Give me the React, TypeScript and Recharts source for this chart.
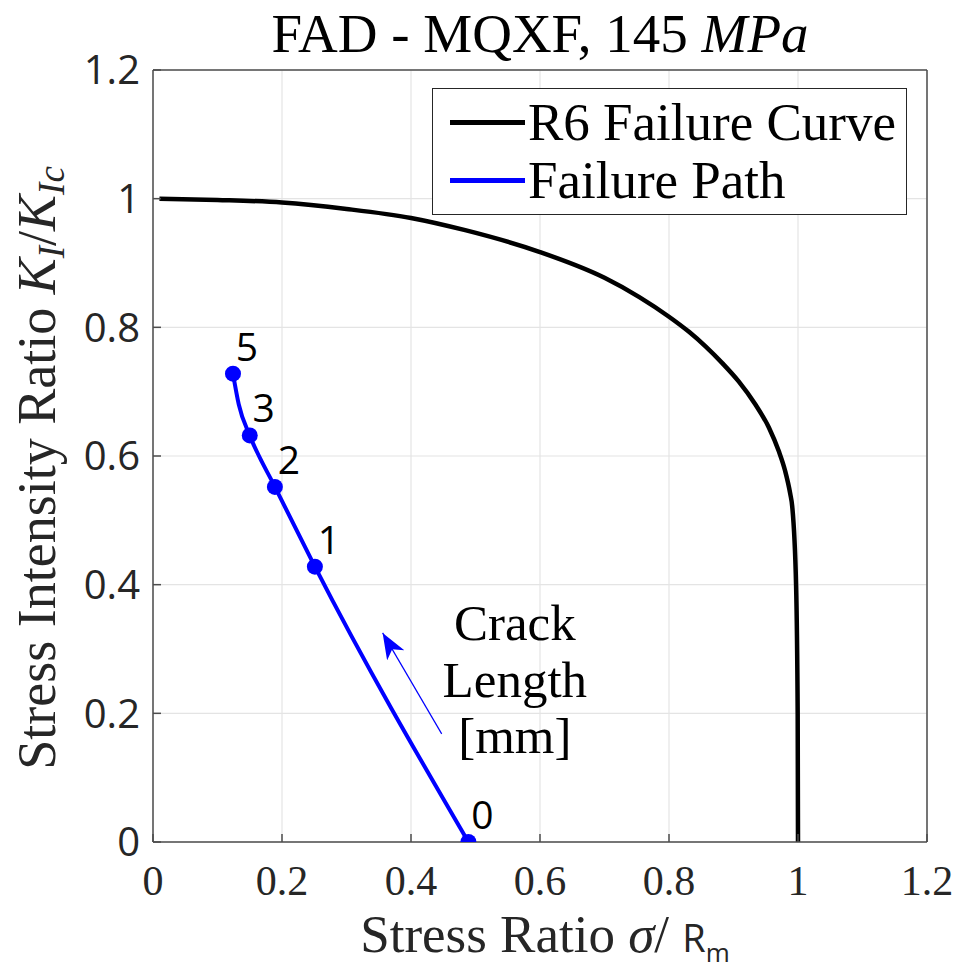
import React from "react";
import {
  ComposedChart, Line, Scatter, XAxis, YAxis, CartesianGrid, Legend, ReferenceDot
} from "recharts";

const axisTicks = [0, 0.2, 0.4, 0.6, 0.8, 1, 1.2];

// R6 failure assessment curve (Lr, Kr)
const r6Ratio = [0.01, 0.1, 0.2, 0.3, 0.4, 0.484, 0.6, 0.7, 0.754, 0.8, 0.831, 0.857, 0.883, 0.908, 0.934, 0.955, 0.97, 0.98, 0.988, 0.991, 0.997, 0.9995, 1.0];
const r6Intensity = [1.0, 0.998, 0.994, 0.984, 0.97, 0.951, 0.917, 0.877, 0.847, 0.8165, 0.793, 0.77, 0.744, 0.716, 0.68, 0.644, 0.608, 0.577, 0.541, 0.522, 0.4, 0.2, 0.0];

// failure path as the crack grows
const pathRatio = [0.124, 0.133, 0.15, 0.189, 0.251, 0.489];
const pathIntensity = [0.728, 0.68, 0.632, 0.552, 0.428, 0.0];

// marked crack lengths [mm]
const crackLengths = ["5", "3", "2", "1", "0"];
const crackRatio = [0.124, 0.15, 0.189, 0.251, 0.489];
const crackIntensity = [0.728, 0.632, 0.552, 0.428, 0.0];

// direction arrow (tail -> head)
const arrowRatio = [0.4476, 0.356];
const arrowIntensity = [0.168, 0.325];

const legendItems = [
  { name: "R6 Failure Curve", color: "#000000" },
  { name: "Failure Path", color: "#0000ff" },
];

const SERIF = "'Liberation Serif', 'DejaVu Serif', serif";
const SANS = "'Open Sans', 'Liberation Sans', sans-serif";
const AXIS = "#4d4d4d";

const r6Data = r6Ratio.map((x, i) => ({ x, y: r6Intensity[i] }));
const pathData = pathRatio.map((x, i) => ({ x, y: pathIntensity[i] }));
const crackData = crackRatio.map((x, i) => ({ x, y: crackIntensity[i], label: crackLengths[i] }));
const arrowData = arrowRatio.map((x, i) => ({ x, y: arrowIntensity[i] }));

function CrackPoint(props: any) {
  const { cx, cy, payload } = props;
  return (
    <g>
      <circle cx={cx} cy={cy} r={8} fill="#0000ff" />
      <text x={cx + 14} y={cy - 13} textAnchor="middle" fontFamily={SANS} fontSize={39} fill="#000">
        {payload.label}
      </text>
    </g>
  );
}

function LegendBox() {
  return (
    <div style={{
      width: 475, height: 127, boxSizing: "border-box", border: "1.5px solid #262626",
      background: "#fff", paddingTop: 4
    }}>
      {legendItems.map((item) => (
        <div key={item.name} style={{ display: "flex", alignItems: "center", height: 58 }}>
          <div style={{ width: 75, height: 5, background: item.color, marginLeft: 17, marginRight: 3 }} />
          <span style={{ fontFamily: SERIF, fontSize: 53, color: "#000", lineHeight: "58px", whiteSpace: "nowrap" }}>
            {item.name}
          </span>
        </div>
      ))}
    </div>
  );
}

function CrackNote(props: any) {
  const { viewBox } = props;
  const cx = viewBox.x + viewBox.width / 2;
  const cy = viewBox.y + viewBox.height / 2;
  return (
    <text x={cx} y={cy} textAnchor="middle" fontFamily={SERIF} fontSize={51} fill="#000">
      <tspan x={cx} dy={-44}>Crack</tspan>
      <tspan x={cx} dy={57}>Length</tspan>
      <tspan x={cx} dy={56}>[mm]</tspan>
    </text>
  );
}

function XTitle(props: any) {
  const { viewBox } = props;
  const cx = viewBox.x + viewBox.width / 2;
  return (
    <text x={cx + 5} y={viewBox.y + 110} textAnchor="middle" fontFamily={SERIF} fontSize={53} fill="#262626">
      <tspan>Stress Ratio </tspan>
      <tspan fontStyle="italic">σ</tspan>
      <tspan>/ </tspan>
      <tspan fontFamily={SANS} fontSize={38}>R</tspan>
      <tspan fontFamily={SANS} fontSize={26} dy={10}>m</tspan>
    </text>
  );
}

function YTitle(props: any) {
  const { viewBox } = props;
  const x = 55;
  const y = viewBox.y + viewBox.height / 2 + 12;
  return (
    <text x={x} y={y} textAnchor="middle" fontFamily={SERIF} fontSize={54} fill="#262626"
      transform={`rotate(-90, ${x}, ${y})`}>
      <tspan>Stress Intensity Ratio </tspan>
      <tspan fontStyle="italic">K</tspan>
      <tspan fontStyle="italic" fontSize={37} dy={9}>I</tspan>
      <tspan dy={-9}>/</tspan>
      <tspan fontStyle="italic">K</tspan>
      <tspan fontStyle="italic" fontSize={37} dy={9}>Ic</tspan>
    </text>
  );
}

function ChartTitle(props: any) {
  const { viewBox } = props;
  const cx = viewBox.x + viewBox.width / 2;
  return (
    <text x={cx} y={52} textAnchor="middle" fontFamily={SERIF} fontSize={55} fill="#000">
      <tspan>FAD - MQXF, 145 </tspan>
      <tspan fontStyle="italic">MPa</tspan>
    </text>
  );
}

export default function App() {
  return (
    <div style={{ width: 961, height: 973, margin: "-8px 0 -8px -8px", background: "#fff" }}>
      <svg width={0} height={0} style={{ position: "absolute" }}>
        <defs>
          <marker id="crackArrow" markerUnits="userSpaceOnUse" markerWidth={28} markerHeight={20}
            refX={26} refY={10} orient="auto">
            <path d="M0,0 L26,10 L0,20 L7,10 Z" fill="#0000ff" />
          </marker>
        </defs>
      </svg>
      <ComposedChart width={961} height={973} margin={{ top: 69, right: 33, left: 0, bottom: 0 }}>
        <CartesianGrid stroke="#e4e4e4" strokeWidth={1.2} horizontalValues={axisTicks} verticalValues={axisTicks} />
        <XAxis type="number" dataKey="x" domain={[0, 1.2]} ticks={axisTicks} allowDataOverflow
          height={131} stroke={AXIS} strokeWidth={1.5} tickSize={-8} tickMargin={31}
          tick={{ fontFamily: SERIF, fontSize: 42, fill: "#262626" }}
          label={<XTitle />} />
        <XAxis xAxisId="top" orientation="top" type="number" dataKey="x" domain={[0, 1.2]} ticks={axisTicks}
          allowDataOverflow height={1} stroke={AXIS} strokeWidth={1.5} tickSize={-8} tick={false}
          label={<ChartTitle />} />
        <YAxis type="number" dataKey="y" domain={[0, 1.2]} ticks={axisTicks} allowDataOverflow
          width={153} stroke={AXIS} strokeWidth={1.5} tickSize={-8} tickMargin={21}
          tick={{ fontFamily: SANS, fontSize: 40, fill: "#262626" }}
          label={<YTitle />} />
        <YAxis yAxisId="right" orientation="right" type="number" dataKey="y" domain={[0, 1.2]} ticks={axisTicks}
          allowDataOverflow width={1} stroke={AXIS} strokeWidth={1.5} tickSize={-8} tick={false} />
        <Legend layout="vertical" align="center" verticalAlign="middle" content={<LegendBox />}
          wrapperStyle={{ left: 432, top: 88, width: 475, height: 127 }} />
        <Line data={r6Data} dataKey="y" xAxisId="top" yAxisId="right" name="R6 Failure Curve" type="monotone"
          stroke="#000000" strokeWidth={4.5} dot={false} isAnimationActive={false} />
        <Line data={pathData} dataKey="y" name="Failure Path" type="monotone" stroke="#0000ff"
          strokeWidth={4} dot={false} isAnimationActive={false} />
        <Line data={arrowData} dataKey="y" name="arrow" type="linear" stroke="#0000ff" strokeWidth={1.2}
          dot={false} markerEnd="url(#crackArrow)" legendType="none" isAnimationActive={false} />
        <Scatter data={crackData} dataKey="y" name="Crack length" shape={<CrackPoint />}
          legendType="none" isAnimationActive={false} />
        <ReferenceDot x={0.561} y={0.245} r={1} fill="none" stroke="none" label={<CrackNote />} />
      </ComposedChart>
    </div>
  );
}
